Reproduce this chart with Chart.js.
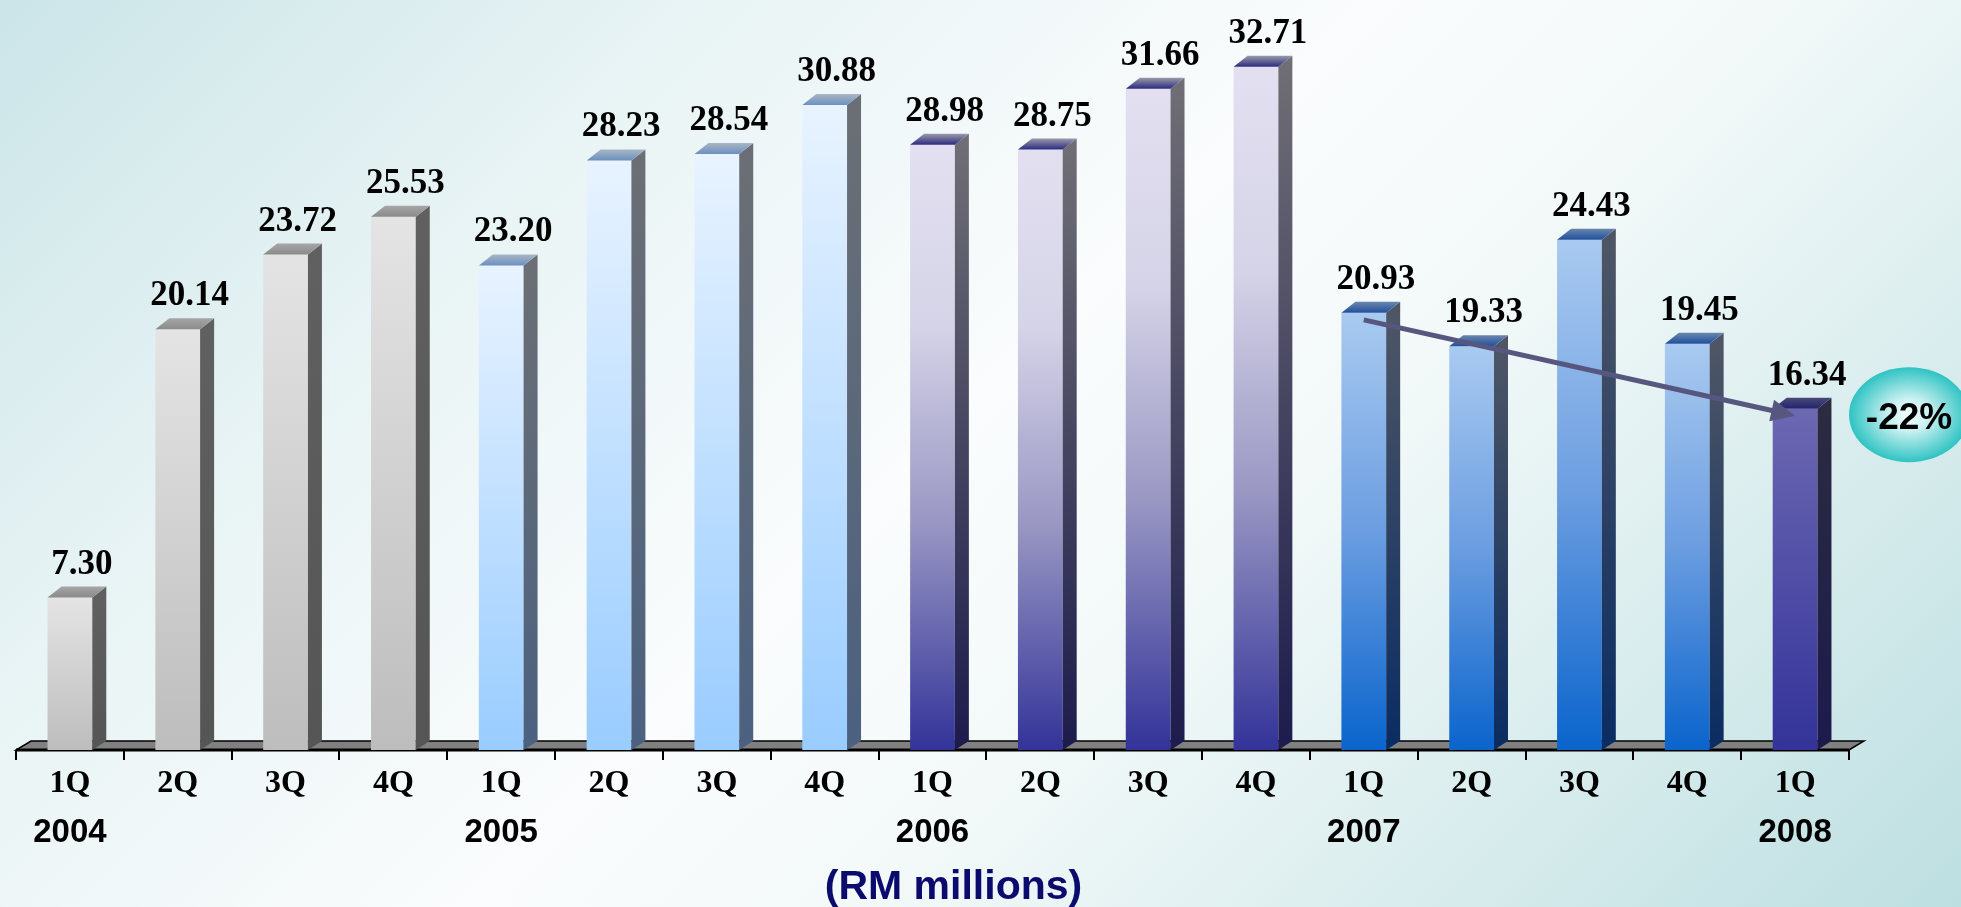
<!DOCTYPE html>
<html>
<head>
<meta charset="utf-8">
<script src="https://cdn.jsdelivr.net/npm/chart.js@4.4.1/dist/chart.umd.min.js"></script>
<style>
  html, body { margin: 0; padding: 0; }
  body {
    width: 1961px;
    height: 907px;
    overflow: hidden;
    background: linear-gradient(135deg, #cbe5e8 0%, #e9f4f5 25%, #fafcfd 48%, #f3f9f9 62%, #bddfe1 100%);
  }
  canvas { display: block; }
</style>
</head>
<body>
<canvas id="chart" width="1961" height="907"></canvas>
<script>
// Quarterly figures, RM millions
const quarters = ['1Q', '2Q', '3Q', '4Q', '1Q', '2Q', '3Q', '4Q', '1Q', '2Q', '3Q', '4Q', '1Q', '2Q', '3Q', '4Q', '1Q'];
const years = ['2004', '', '', '', '2005', '', '', '', '2006', '', '', '', '2007', '', '', '', '2008'];
const profit = [7.30, 20.14, 23.72, 25.53, 23.20, 28.23, 28.54, 30.88, 28.98, 28.75, 31.66, 32.71, 20.93, 19.33, 24.43, 19.45, 16.34];
const unitLabel = '(RM millions)';

// trend arrow from 1Q 2007 to 1Q 2008
const trendFrom = 12;
const trendTo = 16;
const trendLabel = '-22%';

// colours for each year's bars: front gradient stops, side and top faces
const shades = {
  '2004': { front: [[0, '#e4e4e4'], [1, '#bdbdbd']], side: ['#606060', '#555555'], top: ['#a6a6a6', '#8a8a8a'] },
  '2005': { front: [[0, '#e8f3ff'], [1, '#99ccff']], side: ['#6b6f75', '#4b6180'], top: ['#a9b6c4', '#6a90c0'] },
  '2006': { front: [[0, '#e2e0f0'], [0.3, '#d5d3e7'], [0.62, '#9a98c3'], [1, '#333399']], side: ['#6f6e75', '#1c1b4c'], top: ['#9a9aaa', '#2a2a80'] },
  '2007': { front: [[0, '#a9caf0'], [0.5, '#6b9de0'], [1, '#0a64cc']], side: ['#4e5666', '#0a2c62'], top: ['#6a86ac', '#1f4f9e'] },
  '2008': { front: [[0, '#6c68b2'], [1, '#333399']], side: ['#2b2b42', '#1c1a4c'], top: ['#4a4a78', '#23236e'] }
};

// year each bar belongs to
const barYear = [];
years.forEach((y, i) => barYear.push(y || barYear[i - 1]));

const DEPTH_X = 14;
const DEPTH_Y = 11;
const FLOOR_X = 15;
const FLOOR_Y = 9;

function frontFill(context) {
  const chart = context.chart;
  const i = context.dataIndex;
  if (i === undefined || !chart.chartArea) return '#cccccc';
  const yScale = chart.scales.y;
  const top = yScale.getPixelForValue(profit[i]);
  const base = yScale.getPixelForValue(0);
  const g = chart.ctx.createLinearGradient(0, top, 0, base);
  shades[barYear[i]].front.forEach(s => g.addColorStop(s[0], s[1]));
  return g;
}

// grey floor under the bars
const floorPlugin = {
  id: 'floor',
  beforeDatasetsDraw(chart) {
    const ctx = chart.ctx;
    const { left, right, bottom } = chart.chartArea;
    ctx.save();
    ctx.beginPath();
    ctx.moveTo(left, bottom);
    ctx.lineTo(right, bottom);
    ctx.lineTo(right + FLOOR_X, bottom - FLOOR_Y);
    ctx.lineTo(left + FLOOR_X, bottom - FLOOR_Y);
    ctx.closePath();
    ctx.fillStyle = '#808080';
    ctx.fill();
    ctx.lineWidth = 1.5;
    ctx.strokeStyle = '#000';
    ctx.stroke();
    ctx.beginPath();
    ctx.moveTo(left, bottom);
    ctx.lineTo(right, bottom);
    ctx.lineWidth = 3;
    ctx.stroke();
    ctx.restore();
  }
};

// side and top faces, value labels, trend arrow
const barsPlugin = {
  id: 'bars3d',
  afterDatasetsDraw(chart) {
    const ctx = chart.ctx;
    const meta = chart.getDatasetMeta(0);
    const yScale = chart.scales.y;
    ctx.save();
    meta.data.forEach((bar, i) => {
      const { x, y, width, base } = bar.getProps(['x', 'y', 'width', 'base'], true);
      const l = x - width / 2;
      const r = x + width / 2;
      const c = shades[barYear[i]];

      let g = ctx.createLinearGradient(0, y, 0, base);
      g.addColorStop(0, c.side[0]);
      g.addColorStop(1, c.side[1]);
      ctx.fillStyle = g;
      ctx.beginPath();
      ctx.moveTo(r, y);
      ctx.lineTo(r + DEPTH_X, y - DEPTH_Y);
      ctx.lineTo(r + DEPTH_X, base - FLOOR_Y);
      ctx.lineTo(r, base);
      ctx.closePath();
      ctx.fill();

      g = ctx.createLinearGradient(0, y - DEPTH_Y, 0, y);
      g.addColorStop(0, c.top[0]);
      g.addColorStop(1, c.top[1]);
      ctx.fillStyle = g;
      ctx.beginPath();
      ctx.moveTo(l, y);
      ctx.lineTo(r, y);
      ctx.lineTo(r + DEPTH_X, y - DEPTH_Y);
      ctx.lineTo(l + DEPTH_X, y - DEPTH_Y);
      ctx.closePath();
      ctx.fill();

      ctx.fillStyle = '#000';
      ctx.font = 'bold 35px "Liberation Serif"';
      ctx.textAlign = 'center';
      ctx.textBaseline = 'alphabetic';
      ctx.fillText(profit[i].toFixed(2), x + 12, y - 24);
    });

    // trend arrow
    const x1 = meta.data[trendFrom].x;
    const y1 = yScale.getPixelForValue(profit[trendFrom]) + 7;
    const x2 = meta.data[trendTo].x;
    const y2 = yScale.getPixelForValue(profit[trendTo]) + 7;
    const ang = Math.atan2(y2 - y1, x2 - x1);
    const head = 24;
    ctx.strokeStyle = '#56567f';
    ctx.fillStyle = '#56567f';
    ctx.lineWidth = 5;
    ctx.beginPath();
    ctx.moveTo(x1, y1);
    ctx.lineTo(x2 - head * 0.8 * Math.cos(ang), y2 - head * 0.8 * Math.sin(ang));
    ctx.stroke();
    ctx.beginPath();
    ctx.moveTo(x2, y2);
    ctx.lineTo(x2 - head * Math.cos(ang) + 11 * Math.sin(ang), y2 - head * Math.sin(ang) - 11 * Math.cos(ang));
    ctx.lineTo(x2 - head * Math.cos(ang) - 11 * Math.sin(ang), y2 - head * Math.sin(ang) + 11 * Math.cos(ang));
    ctx.closePath();
    ctx.fill();
    ctx.restore();
  },
  afterDraw(chart) {
    const ctx = chart.ctx;

    // percentage badge next to the last bar
    const cx = chart.chartArea.right + 60;
    const cy = chart.scales.y.getPixelForValue(profit[trendTo]) + 6;
    const rx = 60, ry = 47.5;
    ctx.save();
    ctx.translate(cx, cy);
    ctx.scale(1, ry / rx);
    const g = ctx.createRadialGradient(0, 0, 0, 0, 0, rx);
    g.addColorStop(0, '#f4ffff');
    g.addColorStop(0.35, '#c8f0f0');
    g.addColorStop(1, '#2fc3c3');
    ctx.fillStyle = g;
    ctx.beginPath();
    ctx.arc(0, 0, rx, 0, Math.PI * 2);
    ctx.fill();
    ctx.restore();
    ctx.save();
    ctx.fillStyle = '#000';
    ctx.font = 'bold 37px "Liberation Sans"';
    ctx.textAlign = 'center';
    ctx.textBaseline = 'alphabetic';
    ctx.fillText(trendLabel, cx, cy + 14);

    // unit caption under the year row
    ctx.fillStyle = '#0b0b6e';
    ctx.font = 'bold 41px "Liberation Sans"';
    ctx.fillText(unitLabel, chart.width / 2 - 27, chart.height - 8);
    ctx.restore();
  }
};

const chart = new Chart(document.getElementById('chart').getContext('2d'), {
  type: 'bar',
  data: {
    labels: quarters,
    datasets: [{
      data: profit,
      backgroundColor: frontFill,
      borderWidth: 0,
      barPercentage: 0.415,
      categoryPercentage: 1
    }]
  },
  options: {
    responsive: false,
    animation: false,
    layout: { padding: { left: 16, right: 112, top: 19, bottom: 43 } },
    plugins: {
      legend: { display: false },
      tooltip: { enabled: false },
      title: { display: false }
    },
    scales: {
      y: { display: false, min: 0, max: 35 },
      x: {
        weight: 0,
        border: { display: false },
        grid: { display: true, drawOnChartArea: false, drawTicks: true, tickLength: 10, lineWidth: 2, color: '#000', offset: true },
        ticks: {
          color: '#000',
          padding: 8,
          maxRotation: 0,
          autoSkip: false,
          font: { family: 'Liberation Serif', size: 32, weight: 'bold', lineHeight: 1 }
        },
        afterFit(scale) { scale.height = 56; }
      },
      x2: {
        type: 'category',
        labels: years,
        position: 'bottom',
        offset: true,
        weight: 1,
        border: { display: false },
        grid: { display: false, drawTicks: false, tickLength: 0 },
        ticks: {
          color: '#000',
          padding: 10,
          maxRotation: 0,
          autoSkip: false,
          font: { family: 'Liberation Sans', size: 33, weight: 'bold', lineHeight: 1 }
        },
        afterFit(scale) { scale.height = 58; }
      }
    }
  },
  plugins: [floorPlugin, barsPlugin]
});
</script>
</body>
</html>
